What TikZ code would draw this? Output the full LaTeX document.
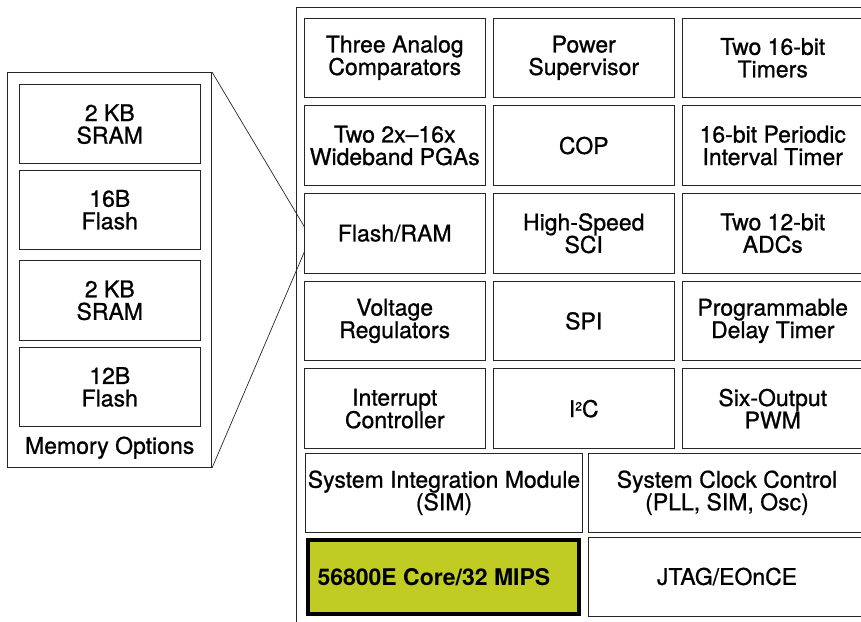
\documentclass[tikz,border=0pt]{standalone}
\usepackage{fontspec}
\setmainfont{TeX Gyre Heros}[UprightFeatures={FakeBold=0.9}]
\usetikzlibrary{positioning}

\definecolor{nucleo}{RGB}{192,204,36}

\newcommand{\supdos}{\raisebox{6.5pt}{\fontsize{12}{12}\selectfont 2}}

\tikzset{
  bloque/.style={draw=black!85, line width=0.9pt, minimum width=181pt, minimum height=79.5pt,
    inner sep=0pt, align=center, font=\fontsize{23}{22.5}\selectfont},
  ancho/.style={bloque, minimum width=277.5pt, minimum height=79pt},
}

\begin{document}
\begin{tikzpicture}[x=1pt,y=-1pt]
\useasboundingbox (0,0) rectangle (861,621);

% Marco del chip
\draw[black!85, line width=0.9pt] (296,640) -- (296,7.3) -- (880,7.3);

% Rejilla de periféricos (3 columnas x 5 filas)
\foreach \f/\c/\nombre/\txt in {
    1/1/tac/{Three Analog\\Comparators}, 1/2/psup/{Power\\Supervisor}, 1/3/tmr/{Two 16-bit\\Timers},
    2/1/pga/{Two 2x–16x\\Wideband PGAs}, 2/2/cop/{COP}, 2/3/pit/{16-bit Periodic\\Interval Timer},
    3/1/flash/{Flash/RAM}, 3/2/sci/{High-Speed\\SCI}, 3/3/adc/{Two 12-bit\\ADCs},
    4/1/vreg/{Voltage\\Regulators}, 4/2/spi/{SPI}, 4/3/pdb/{Programmable\\Delay Timer},
    5/1/intc/{Interrupt\\Controller}, 5/2/iic/{I\supdos C}, 5/3/pwm/{Six-Output\\PWM}} {
    \node[bloque] (\nombre) at ({394.75+189*(\c-1)},{57.85+87.7*(\f-1)}) {\txt};
}

% Bloques anchos inferiores
\node[ancho] (sim) at (444,492.8) {System Integration Module\\(SIM)};
\node[ancho] (scc) at (727,492.8) {System Clock Control\\(PLL, SIM, Osc)};
\node[ancho] (jtag) at (727,576.5) {JTAG/EOnCE};

% Núcleo
\node[draw=black, line width=3.6pt, fill=nucleo, minimum width=271pt, minimum height=74pt,
  inner sep=0pt] (core) at (443.5,576.7) {};
\node[anchor=west, inner sep=0pt, font=\fontsize{23}{22.5}\selectfont\bfseries] (coretxt)
  at (317.3,576.7) {56800E Core/32 MIPS};

% Opciones de memoria
\node[draw=black!85, line width=0.9pt, minimum width=204pt, minimum height=394.6pt, inner sep=0pt]
  (mem) at (109.7,270) {};
\foreach \i/\nombre/\txt in {1/sramA/{2 KB\\SRAM}, 2/flashA/{16B\\Flash},
    3/sramB/{2 KB\\SRAM}, 4/flashB/{12B\\Flash}} {
    \ifnum\i<3
      \node[bloque] (\nombre) at (109.8,{124.15+85.65*(\i-1)}) {\txt};
    \else
      \node[bloque] (\nombre) at (109.8,{300.35+86.65*(\i-3)}) {\txt};
    \fi
}
\node[font=\fontsize{23}{22.5}\selectfont, inner sep=0pt] (memtxt) at (109.7,447.7) {Memory Options};

% Líneas de ampliación
\coordinate (zA) at (304.5,227);
\coordinate (zB) at (304.5,251.5);
\draw[black!85, line width=0.7pt] (mem.north east) -- (zA);
\draw[black!85, line width=0.7pt] (mem.south east) -- (zB);

\end{tikzpicture}
\end{document}
